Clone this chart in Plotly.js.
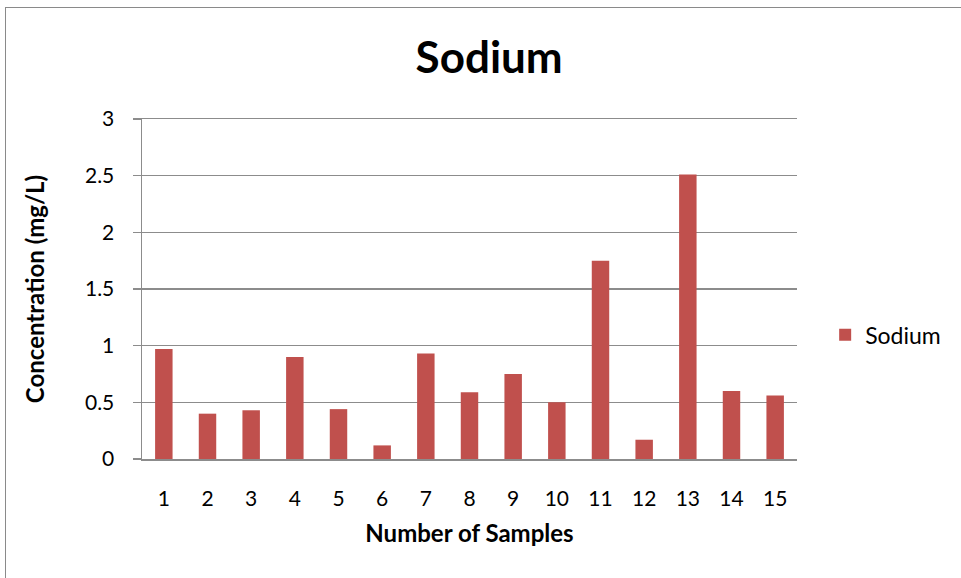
<!DOCTYPE html>
<html>
<head>
<meta charset="utf-8">
<script src="https://cdn.plot.ly/plotly-3.0.1.min.js"></script>
<style>
html,body{margin:0;padding:0;background:#fff;}
#wrap{position:relative;width:961px;height:578px;}
#chart{width:961px;height:578px;}
#frame{position:absolute;left:5px;top:7px;width:960px;height:580px;border-left:1px solid #8a8a8a;border-top:1px solid #8a8a8a;pointer-events:none;}
</style>
</head>
<body>
<div id="wrap"><div id="chart"></div><div id="frame"></div></div>
<script>
const categories = ['1','2','3','4','5','6','7','8','9','10','11','12','13','14','15'];
const sodium = [0.97, 0.40, 0.43, 0.90, 0.44, 0.12, 0.93, 0.59, 0.75, 0.50, 1.75, 0.17, 2.51, 0.60, 0.56];
const yTicks = [0, 0.5, 1, 1.5, 2, 2.5, 3];
const yTickText = ['0','0.5','1','1.5','2','2.5','3'];

const FONT = 'Lato, "Open Sans", sans-serif';

Plotly.newPlot('chart', [{
  type: 'bar',
  name: 'Sodium',
  x: categories,
  y: sodium,
  marker: {color: '#C0504D'}
}], {
  width: 961, height: 578,
  margin: {l: 142, r: 164, t: 119, b: 119},
  paper_bgcolor: '#ffffff',
  plot_bgcolor: 'rgba(0,0,0,0)',
  bargap: 0.6,
  showlegend: true,
  title: {text: '<b>Sodium</b>', font: {family: FONT, size: 44, color: '#000'}, x: 0.509, xanchor: 'center', y: 0.9, yanchor: 'middle'},
  legend: {x: 1.043, xanchor: 'left', y: 0.365, yanchor: 'middle', font: {family: FONT, size: 23, color: '#000'}, itemwidth: 30},
  xaxis: {
    type: 'category',
    showgrid: false,
    zeroline: false,
    showline: true, linecolor: '#8c8c8c', linewidth: 1.5, mirror: true,
    ticks: 'outside', ticklen: 20, tickcolor: 'rgba(0,0,0,0)',
    tickfont: {family: FONT, size: 21, color: '#000'},
    title: {text: '<b>Number of Samples</b>', font: {family: FONT, size: 24, color: '#000'}, standoff: 16}
  },
  yaxis: {
    range: [0, 3],
    tickvals: yTicks, ticktext: yTickText,
    showgrid: true, gridcolor: '#8c8c8c', gridwidth: 1.3,
    zeroline: false,
    showline: true, linecolor: '#8c8c8c', linewidth: 1.5,
    ticks: 'outside', ticklen: 8, tickcolor: '#8c8c8c', tickwidth: 1.3,
    ticklabelstandoff: 14,
    tickfont: {family: FONT, size: 21, color: '#000'},
    title: {text: '<b>Concentration (mg/L)</b>', font: {family: FONT, size: 24, color: '#000'}, standoff: 33}
  }
}, {displayModeBar: false, staticPlot: true});
</script>
</body>
</html>
